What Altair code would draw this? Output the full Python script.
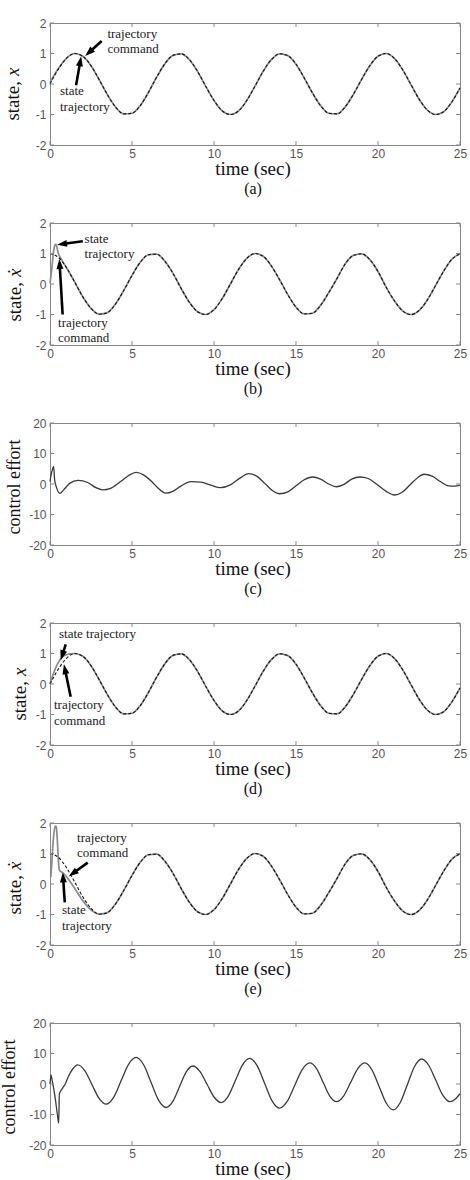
import math
import altair as alt
import pandas as pd

W, H = 410, 122

# ---------------- data ----------------
T = [0, 0.5, 1, 1.5, 2, 2.5, 3, 3.5, 4, 4.5, 5, 5.5, 6, 6.5, 7, 7.5, 8, 8.5, 9, 9.5,
     10, 10.5, 11, 11.5, 12, 12.5, 13, 13.5, 14, 14.5, 15, 15.5, 16, 16.5, 17, 17.5,
     18, 18.5, 19, 19.5, 20, 20.5, 21, 21.5, 22, 22.5, 23, 23.5, 24, 24.5, 25]

X_CMD = [0.00, 0.48, 0.84, 1.00, 0.91, 0.60, 0.14, -0.35, -0.76, -0.98, -0.96, -0.71,
         -0.28, 0.22, 0.66, 0.94, 0.99, 0.80, 0.41, -0.08, -0.54, -0.88, -1.00, -0.88,
         -0.54, -0.07, 0.42, 0.80, 0.99, 0.93, 0.65, 0.20, -0.29, -0.71, -0.96, -0.98,
         -0.75, -0.34, 0.15, 0.60, 0.91, 1.00, 0.84, 0.47, -0.01, -0.49, -0.85, -1.00,
         -0.91, -0.59, -0.13]

XD_CMD = [1.00, 0.88, 0.54, 0.07, -0.42, -0.80, -0.99, -0.94, -0.65, -0.21, 0.28, 0.71,
          0.96, 0.98, 0.75, 0.35, -0.15, -0.60, -0.91, -1.00, -0.84, -0.48, 0.00, 0.48,
          0.84, 1.00, 0.91, 0.59, 0.14, -0.35, -0.76, -0.98, -0.96, -0.70, -0.28, 0.18,
          0.66, 0.94, 0.99, 0.80, 0.41, -0.11, -0.55, -0.88, -1.00, -0.87, -0.53, -0.06,
          0.42, 0.81, 0.99]

# (a) state trajectory
A_ST_T = [0, 0.5] + T[2:]
A_ST_V = [0.05, 0.50] + X_CMD[2:]

# (b) state trajectory (x dot)
B_ST_T = [0, 0.1, 0.2, 0.3, 0.36, 0.5, 0.75, 1.0] + T[3:]
B_ST_V = [0.02, 0.45, 1.00, 1.27, 1.30, 1.02, 0.76, 0.54] + XD_CMD[3:]

# (c) control effort
C_T = [0, 0.05, 0.15, 0.22, 0.28, 0.4, 0.6, 0.85, 1.2, 1.7, 2.3, 2.8, 3.2, 3.7, 4.3,
       4.8, 5.25, 5.7, 6.2, 6.6, 7.05, 7.5, 8.0, 8.6, 9.2, 9.8, 10.4, 11.0, 11.6, 12.1,
       12.6, 13.1, 13.6, 14.0, 14.5, 15.0, 15.5, 16.0, 16.5, 17.0, 17.45, 17.9, 18.4,
       18.9, 19.4, 19.9, 20.5, 21.0, 21.5, 22.0, 22.4, 22.8, 23.3, 23.8, 24.3, 24.7, 25.0]
C_V = [0.8, 2.5, 4.8, 5.8, 1.5, -1.2, -3.1, -1.8, 0.2, 1.2, 0.5, -1.2, -1.9, -1.4, 0.8,
       2.8, 3.8, 3.0, 0.8, -1.4, -3.0, -2.4, -0.6, 0.8, 0.6, -0.4, -1.2, -0.3, 2.0, 3.4,
       2.6, 0.2, -2.3, -3.2, -2.6, -0.6, 1.4, 2.3, 1.6, 0.0, -0.9, -0.2, 1.6,
       2.3, 1.8, 0.0, -2.4, -3.6, -2.6, 0.0, 2.0, 3.2, 2.6, 0.8, -0.6, -0.7, -0.4]

# (d) state trajectory
D_ST_T = [0, 0.25, 0.5, 0.75, 1.0, 1.25] + T[3:]
D_ST_V = [0.0, 0.40, 0.70, 0.88, 0.96, 0.99] + X_CMD[3:]

# (e) state trajectory (x dot)
E_ST_T = [0.05, 0.1, 0.18, 0.26, 0.33, 0.38, 0.44, 0.5, 0.57, 0.8, 1.2, 1.6, 2.0, 2.5, 3.0] + T[7:]
E_ST_V = [0.22, 0.60, 1.30, 1.75, 1.90, 1.88, 1.50, 0.90, 0.45, 0.36, 0.10, -0.22, -0.55,
          -0.85, -0.99] + XD_CMD[7:]

# (f) control effort
F_T = [0, 0.06, 0.12, 0.3, 0.45, 0.53, 0.57, 0.75, 0.93, 1.15, 1.4, 1.69,
       2.12, 2.555, 2.99, 3.42, 3.88, 4.335, 4.79, 5.25, 5.71, 6.165, 6.62, 7.08,
       7.49, 7.895, 8.30, 8.71, 9.14, 9.575, 10.01, 10.44, 10.87, 11.305, 11.74, 12.17,
       12.63, 13.085, 13.54, 14.0, 14.46, 14.92, 15.38, 15.84, 16.25, 16.655, 17.06, 17.47,
       17.90, 18.335, 18.77, 19.2, 19.63, 20.065, 20.50, 20.93, 21.36, 21.795, 22.23, 22.66,
       23.09, 23.525, 23.96, 24.39, 24.7, 25.0]
F_V = [0.0, 3.0, 1.5, -4.0, -10.0, -12.8, -3.3, -1.5, 0.0, 2.8, 5.0, 6.3,
       4.41, -0.15, -4.71, -6.6, -4.36, 1.05, 6.46, 8.7, 6.30, 0.5, -5.30, -7.7,
       -5.71, -0.9, 3.91, 5.9, 4.14, -0.1, -4.34, -6.1, -3.98, 1.15, 6.28, 8.4,
       6.01, 0.25, -5.51, -7.9, -5.73, -0.5, 4.73, 6.9, 5.04, 0.55, -3.94, -5.8,
       -3.94, 0.55, 5.04, 6.9, 4.64, -0.8, -6.24, -8.5, -6.05, -0.15, 5.75, 8.2,
       6.15, 1.2, -3.75, -5.8, -5.0, -3.2]

X_TICKS = [0, 5, 10, 15, 20, 25]
Y_TICKS_S = [-2, -1, 0, 1, 2]
Y_TICKS_U = [-20, -10, 0, 10, 20]

# annotations: (label, t, value)   arrows: (t0, v0, t1, v1) tip at (t1, v1)
ANN_A = [("trajectory", 3.5, 1.64), ("command", 3.5, 1.15), ("state", 0.61, -0.23), ("trajectory", 0.61, -0.75)]
ARR_A = [(3.15, 1.41, 2.15, 0.92), (1.59, -0.04, 1.90, 0.91)]
ANN_B = [("state", 2.11, 1.49), ("trajectory", 2.11, 0.98), ("trajectory", 0.49, -1.28), ("command", 0.49, -1.78)]
ARR_B = [(2.00, 1.40, 0.43, 1.29), (0.77, -1.00, 0.57, 0.82)]
ANN_D = [("state trajectory", 0.55, 1.64), ("trajectory", 0.24, -0.70), ("command", 0.24, -1.20)]
ARR_D = [(0.96, 1.30, 0.65, 0.78), (1.26, -0.42, 0.85, 0.65)]
ANN_E = [("trajectory", 1.65, 1.51), ("command", 1.65, 1.01), ("state", 0.73, -0.86), ("trajectory", 0.73, -1.38)]
ARR_E = [(2.30, 0.70, 1.14, 0.25), (0.90, -0.60, 0.78, 0.38)]

SERIF = "Liberation Serif, DejaVu Serif, serif"
SANS = "Liberation Sans, Arial, sans-serif"
HEAD = "M0,0L-0.7,2L0.7,2Z"


def xenc(field="t"):
    return alt.X(f"{field}:Q", scale=alt.Scale(domain=[0, 25], nice=False, zero=False),
                 axis=alt.Axis(values=X_TICKS, title=None, ticks=False, domain=False, grid=False,
                               labelFont=SANS, labelFontSize=12, labelColor="#555",
                               labelPadding=3, labelFlush=False, labelExpr="'' + datum.value"))


def yenc(dom, vals, field="v"):
    return alt.Y(f"{field}:Q", scale=alt.Scale(domain=dom, nice=False, zero=False),
                 axis=alt.Axis(values=vals, title=None, ticks=False, domain=False, grid=False,
                               labelFont=SANS, labelFontSize=12, labelColor="#555",
                               labelPadding=4, labelFlush=False, labelExpr="'' + datum.value"))


def line(ts, vs, dom, vals, color, width, dash=None):
    df = pd.DataFrame({"t": ts, "v": vs})
    kw = dict(color=color, strokeWidth=width, interpolate="monotone")
    if dash:
        kw["strokeDash"] = dash
    return alt.Chart(df).mark_line(**kw).encode(x=xenc(), y=yenc(dom, vals))


def ticks(dom, vals):
    dx = pd.DataFrame({"t": X_TICKS})
    dy = pd.DataFrame({"v": vals})
    c = "#888"
    return [
        alt.Chart(dx).mark_rule(color=c, strokeWidth=1).encode(x=xenc(), y=alt.value(H), y2=alt.value(H - 4)),
        alt.Chart(dx).mark_rule(color=c, strokeWidth=1).encode(x=xenc(), y=alt.value(0), y2=alt.value(4)),
        alt.Chart(dy).mark_rule(color=c, strokeWidth=1).encode(y=yenc(dom, vals), x=alt.value(0), x2=alt.value(4)),
        alt.Chart(dy).mark_rule(color=c, strokeWidth=1).encode(y=yenc(dom, vals), x=alt.value(W - 4), x2=alt.value(W)),
    ]


def annotations(ann, arrows, dom, vals):
    layers = []
    rng = dom[1] - dom[0]
    rows = []
    for t0, v0, t1, v1 in arrows:
        dx = (t1 - t0) * W / 25.0
        dy = (v1 - v0) * H / rng
        ln = math.hypot(dx, dy)
        ux, uy = dx / ln, dy / ln
        ang = math.degrees(math.atan2(dx, dy)) % 360
        te = t1 - 7 * ux * 25.0 / W
        ve = v1 - 7 * uy * rng / H
        rows.append({"t0": t0, "v0": v0, "te": te, "ve": ve, "t1": t1, "v1": v1, "ang": ang})
    da = pd.DataFrame(rows)
    layers.append(alt.Chart(da).mark_rule(color="black", strokeWidth=2.6).encode(
        x=xenc("t0"), x2="te:Q", y=yenc(dom, vals, "v0"), y2="ve:Q"))
    layers.append(alt.Chart(da).mark_point(shape=HEAD, size=100, filled=True, color="black",
                                           opacity=1, strokeWidth=0).encode(
        x=xenc("t1"), y=yenc(dom, vals, "v1"), angle=alt.Angle("ang:Q", scale=None)))
    dt = pd.DataFrame({"label": [a[0] for a in ann], "t": [a[1] for a in ann], "v": [a[2] for a in ann]})
    layers.append(alt.Chart(dt).mark_text(align="left", baseline="middle", font=SERIF, fontSize=13,
                                          color="#222").encode(
        x=xenc(), y=yenc(dom, vals), text="label:N"))
    return layers


def ptext(text, x, y, size, angle=0, align="center", style="normal"):
    return alt.Chart(pd.DataFrame({"k": [0]})).mark_text(
        text=text, align=align, baseline="middle", angle=angle, font=SERIF, fontSize=size,
        fontStyle=style, color="#111").encode(x=alt.value(x), y=alt.value(y))


def frame_texts(letter, ytitle, tx, ty):
    out = [ptext("time (sec)", 203, H + 23.5, 19), ptext(f"({letter})", 203, H + 44, 16)]
    if ytitle == "effort":
        out.append(ptext("control effort", tx, ty, 18, angle=270))
    else:
        out.append(ptext("state,", tx, ty, 19, angle=270, align="right"))
        out.append(ptext(ytitle, tx, ty - 5, 19, angle=270, align="left", style="italic"))
    return out


def state_panel(letter, st_t, st_v, cmd_t, cmd_v, ann, arr, ytitle, tx, ty):
    dom, vals = [-2, 2], Y_TICKS_S
    layers = [line(st_t, st_v, dom, vals, "#8a8a8a", 1.7),
              line(cmd_t, cmd_v, dom, vals, "#111", 1.1, [3, 2])]
    layers += ticks(dom, vals)
    layers += annotations(ann, arr, dom, vals)
    layers += frame_texts(letter, ytitle, tx, ty)
    return alt.layer(*layers).properties(width=W, height=H)


def effort_panel(letter, ts, vs, tx, ty):
    dom, vals = [-20, 20], Y_TICKS_U
    layers = [line(ts, vs, dom, vals, "#3a3a3a", 1.3)]
    layers += ticks(dom, vals)
    layers += frame_texts(letter, "effort", tx, ty)
    return alt.layer(*layers).properties(width=W, height=H)


pa = state_panel("a", A_ST_T, A_ST_V, T, X_CMD, ANN_A, ARR_A, "x", -37, 58)
pb = state_panel("b", B_ST_T, B_ST_V, T, XD_CMD, ANN_B, ARR_B, "\u1e8b", -35, 59)
pc = effort_panel("c", C_T, C_V, -35, 64)
pd_ = state_panel("d", D_ST_T, D_ST_V, T, X_CMD, ANN_D, ARR_D, "x", -30, 58)
pe = state_panel("e", E_ST_T, E_ST_V, T, XD_CMD, ANN_E, ARR_E, "\u1e8b", -35, 52)
pf = effort_panel("f", F_T, F_V, -40, 64)

chart = alt.vconcat(pa, pb, pc, pd_, pe, pf, spacing=78, bounds="flush").configure_view(
    stroke="#888", strokeWidth=1
).properties(padding={"left": 0, "top": 16, "right": 0, "bottom": 0})

chart.save("out.html", embed_options={"renderer": "svg", "actions": False})
